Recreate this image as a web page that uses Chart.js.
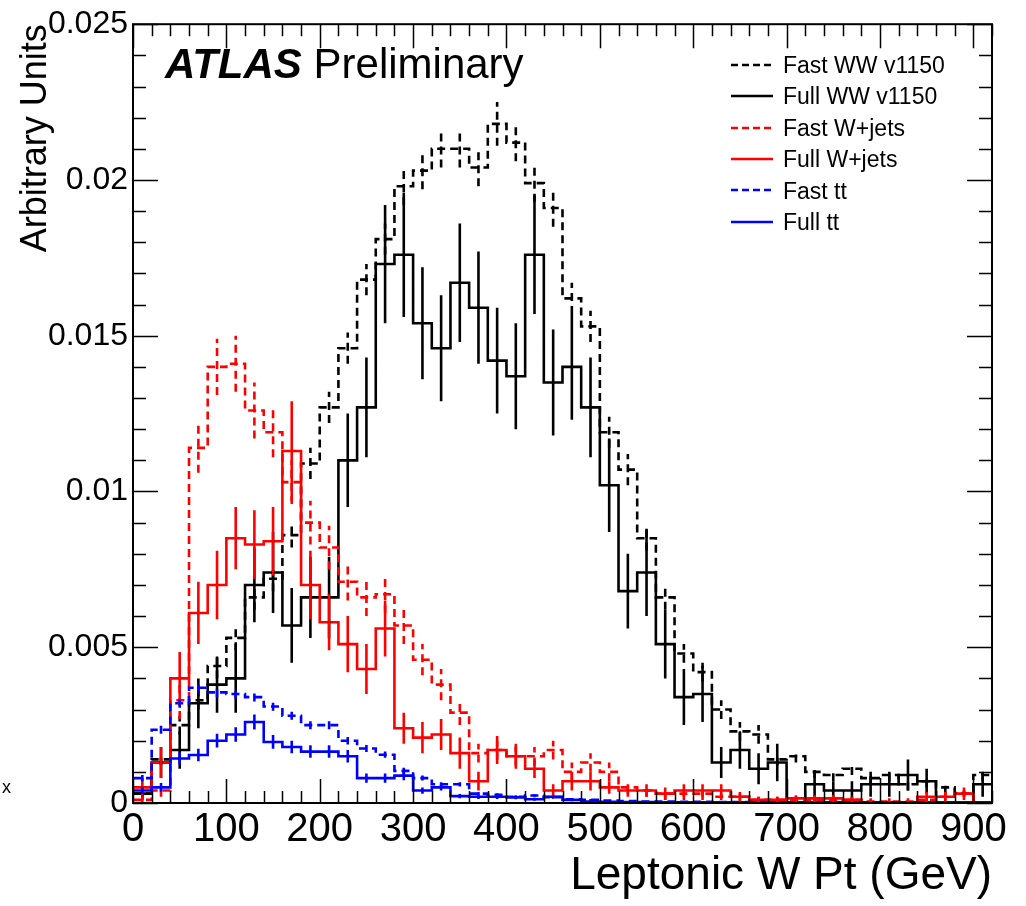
<!DOCTYPE html>
<html>
<head>
<meta charset="utf-8">
<title>Leptonic W Pt</title>
<script src="https://cdn.jsdelivr.net/npm/chart.js@4.4.1/dist/chart.umd.min.js"></script>
<style>
    body { margin: 0; background: #fff; font-family: 'Liberation Sans', Arial, sans-serif; }
    #wrap { position: relative; width: 1026px; height: 906px; }
    #atlas { position: absolute; left: 165px; top: 43px; font-size: 42px; line-height: 42px; color: #000; white-space: nowrap; }
    #atlas b { font-style: italic; }
    #legend { position: absolute; left: 731px; top: 50px; font-size: 23px; color: #000; }
    #legend .row { height: 31.4px; line-height: 31.4px; white-space: nowrap; }
    #legend svg { vertical-align: middle; margin-right: 10px; position: relative; top: -2px; }
    #corner { position: absolute; left: 2px; top: 777px; font-size: 18px; color: #000; }
</style>
</head>
<body>
<div id="wrap">
    <canvas id="chart"></canvas>
    <div id="atlas"><b>ATLAS</b> Preliminary</div>
    <div id="legend"></div>
    <div id="corner">x</div>
</div>
<script>
// 46 bins of 20 GeV, 0 - 920 GeV
const BIN_WIDTH = 20;
const X_MAX = 920;

const xTickValues = [0, 100, 200, 300, 400, 500, 600, 700, 800, 900];
const yTickValues = [0, 0.005, 0.01, 0.015, 0.02, 0.025];
const yTickLabels = ['0', '0.005', '0.01', '0.015', '0.02', '0.025'];

const seriesNames = ['Fast WW v1150', 'Full WW v1150', 'Fast W+jets', 'Full W+jets', 'Fast tt', 'Full tt'];

const fastWW = [0.0003, 0.0014, 0.0025, 0.0033, 0.0044, 0.0053, 0.0066, 0.0072, 0.0086, 0.0109,
    0.0127, 0.0146, 0.0168, 0.0181, 0.0198, 0.0203, 0.0210, 0.0210, 0.0204, 0.0218,
    0.0212, 0.0199, 0.0191, 0.0162, 0.0153, 0.0119, 0.0107, 0.0085, 0.0066, 0.0048,
    0.0042, 0.0030, 0.0023, 0.0022, 0.0014, 0.0015, 0.0010, 0.0009, 0.0011, 0.0008,
    0.0009, 0.0006, 0.0007, 0.0005, 0.0003, 0.0009];
const fastWWErr = [0.0001, 0.0002, 0.0003, 0.0003, 0.0004, 0.0004, 0.0004, 0.0004, 0.0004, 0.0005,
    0.0005, 0.0005, 0.0005, 0.0005, 0.0006, 0.0006, 0.0006, 0.0006, 0.0006, 0.0007,
    0.0006, 0.0006, 0.0006, 0.0005, 0.0005, 0.0005, 0.0005, 0.0004, 0.0004, 0.0003,
    0.0003, 0.0003, 0.0003, 0.0003, 0.0002, 0.0002, 0.0002, 0.0002, 0.0002, 0.0002,
    0.0002, 0.0002, 0.0002, 0.0002, 0.0001, 0.0002];

const fullWW = [0.0003, 0.0013, 0.0017, 0.0032, 0.0038, 0.0040, 0.0070, 0.0074, 0.0057, 0.0066,
    0.0066, 0.0110, 0.0127, 0.0173, 0.0176, 0.0154, 0.0146, 0.0167, 0.0159, 0.0142,
    0.0137, 0.0176, 0.0135, 0.0140, 0.0127, 0.0102, 0.0068, 0.0074, 0.0051, 0.0034,
    0.0035, 0.0013, 0.0017, 0.0011, 0.0013, 0.0000, 0.0006, 0.0004, 0.0004, 0.0006,
    0.0006, 0.0009, 0.0007, 0.0000, 0.0000, 0.0006];
const fullWWErr = [0.0002, 0.0005, 0.0006, 0.0008, 0.0009, 0.0011, 0.0012, 0.0013, 0.0012, 0.0013,
    0.0013, 0.0015, 0.0016, 0.0019, 0.0020, 0.0018, 0.0017, 0.0019, 0.0018, 0.0017,
    0.0017, 0.0019, 0.0017, 0.0017, 0.0016, 0.0015, 0.0012, 0.0014, 0.0011, 0.0009,
    0.0009, 0.0005, 0.0006, 0.0005, 0.0006, 0.0000, 0.0004, 0.0003, 0.0003, 0.0004,
    0.0004, 0.0005, 0.0004, 0.0000, 0.0000, 0.0004];

const fastWjets = [0.0001, 0.0004, 0.0033, 0.0114, 0.0140, 0.0141, 0.0126, 0.0119, 0.0103, 0.0090,
    0.0082, 0.0071, 0.0066, 0.0067, 0.0057, 0.0046, 0.0038, 0.0029, 0.0016, 0.0017,
    0.0015, 0.0015, 0.0017, 0.0010, 0.0013, 0.0010, 0.0005, 0.0004, 0.0003, 0.0003,
    0.0003, 0.0002, 0.0002, 0.0001, 0.0001, 0.0001, 0.0001, 0.0001, 0.0001, 0.00005,
    0.00005, 0.00005, 0.0001, 0.0002, 0.0003, 0.0000];
const fastWjetsErr = [0.0001, 0.0002, 0.0006, 0.0008, 0.0009, 0.0009, 0.0009, 0.0008, 0.0007, 0.0007,
    0.0007, 0.0006, 0.0006, 0.0006, 0.0006, 0.0005, 0.0005, 0.0004, 0.0003, 0.0003,
    0.0003, 0.0003, 0.0003, 0.0003, 0.0003, 0.0003, 0.0002, 0.0002, 0.0002, 0.0002,
    0.0002, 0.0001, 0.0001, 0.0001, 0.0001, 0.0001, 0.0001, 0.0001, 0.0001, 0.0001,
    0.0001, 0.0001, 0.0001, 0.0001, 0.0001, 0.0000];

const fullWjets = [0.0005, 0.0013, 0.0040, 0.0061, 0.0070, 0.0085, 0.0083, 0.0084, 0.0113, 0.0070,
    0.0058, 0.0051, 0.0043, 0.0056, 0.0024, 0.0021, 0.0022, 0.0016, 0.0007, 0.0017,
    0.0015, 0.0011, 0.0004, 0.0007, 0.0007, 0.0005, 0.0004, 0.0004, 0.0003, 0.0004,
    0.0004, 0.0004, 0.0002, 0.0001, 0.0001, 0.00015, 0.00015, 0.00015, 0.0001, 0.0000,
    0.0000, 0.0000, 0.0002, 0.0002, 0.0003, 0.0000];
const fullWjetsErr = [0.0003, 0.0005, 0.00085, 0.0010, 0.0011, 0.0010, 0.0011, 0.0011, 0.0016, 0.0011,
    0.0009, 0.0009, 0.0008, 0.0009, 0.0005, 0.0005, 0.0005, 0.0005, 0.0003, 0.00045,
    0.0004, 0.0003, 0.0002, 0.0003, 0.0003, 0.0002, 0.0002, 0.0002, 0.0002, 0.0002,
    0.0002, 0.0002, 0.00015, 0.0001, 0.0001, 0.0001, 0.0001, 0.0001, 0.0001, 0.0000,
    0.0000, 0.0000, 0.00015, 0.00015, 0.0002, 0.0000];

const fastTT = [0.0008, 0.00235, 0.0032, 0.0037, 0.00355, 0.0035, 0.0034, 0.0031, 0.0028, 0.0025,
    0.0025, 0.0020, 0.00175, 0.00155, 0.00103, 0.0008, 0.0006, 0.0006, 0.0003, 0.00026,
    0.0002, 0.00024, 0.00019, 0.00012, 0.0001, 0.00008, 0.00006, 0.00005, 0.00005, 0.00004,
    0.00004, 0.00003, 0.00003, 0.00003, 0.00002, 0.00002, 0.00002, 0.00002, 0.00002, 0.00002,
    0.00002, 0.00002, 0.00002, 0.00002, 0.00002, 0.00002];
const fastTTErr = [0.0001, 0.00013, 0.00014, 0.00015, 0.00015, 0.00015, 0.00014, 0.00014, 0.00013, 0.00013,
    0.00013, 0.00012, 0.00011, 0.0001, 0.0001, 0.00008, 0.00007, 0.00007, 0.00005, 0.00005,
    0.00004, 0.00004, 0.00004, 0.00003, 0.00003, 0, 0, 0, 0, 0,
    0, 0, 0, 0, 0, 0, 0, 0, 0, 0,
    0, 0, 0, 0, 0, 0];

const fullTT = [0.0004, 0.0005, 0.00143, 0.00154, 0.0020, 0.0022, 0.0026, 0.00196, 0.0018, 0.00165,
    0.00165, 0.0015, 0.0008, 0.0008, 0.00088, 0.0004, 0.0005, 0.00022, 0.0002, 0.0002,
    0.00018, 0.00012, 0.0002, 0.0001, 0.00005, 0.00004, 0.00003, 0.00003, 0.00002, 0.00002,
    0.00002, 0.00002, 0.00002, 0.00002, 0.00002, 0.00002, 0.00002, 0.00002, 0.00002, 0.00002,
    0.00002, 0.00002, 0.00002, 0.00002, 0.00002, 0.00002];
const fullTTErr = [0.00012, 0.00014, 0.0002, 0.0002, 0.00022, 0.00023, 0.00024, 0.00022, 0.0002, 0.0002,
    0.0002, 0.0002, 0.00015, 0.00015, 0.00015, 0.0001, 0.0001, 0.00007, 0.00007, 0.00007,
    0.00006, 0.00005, 0.00006, 0.00004, 0.00003, 0, 0, 0, 0, 0,
    0, 0, 0, 0, 0, 0, 0, 0, 0, 0,
    0, 0, 0, 0, 0, 0];

const FONT = "'Liberation Sans', Arial, Helvetica, sans-serif";
const DASH = [8, 5];

/**
 * Turns per-bin values into step points on the bin edges
 * @param {Array} values - content of each bin
 */
function histPoints(values) {
    const pts = values.map((v, i) => ({ x: i * BIN_WIDTH, y: v }));
    pts.push({ x: values.length * BIN_WIDTH, y: values[values.length - 1] });
    return pts;
}

function histDataset(label, values, errors, color, dashed, order) {
    return {
        label: label,
        data: histPoints(values),
        values: values,
        errors: errors,
        borderColor: color,
        borderWidth: 2.6,
        borderDash: dashed ? DASH : [],
        stepped: true,
        pointRadius: 0,
        fill: false,
        order: order
    };
}

// vertical error bars at bin centres, drawn in the style of their histogram
const errorBars = {
    id: 'errorBars',
    afterDatasetsDraw(chart) {
        const { ctx, chartArea: a, scales: { x, y } } = chart;
        ctx.save();
        ctx.beginPath();
        ctx.rect(a.left, a.top, a.right - a.left, a.bottom - a.top);
        ctx.clip();
        // same layering as the lines: higher order first
        const sets = chart.data.datasets.map((ds, i) => ({ ds, i })).sort((p, q) => q.ds.order - p.ds.order);
        sets.forEach(({ ds, i }) => {
            if (!chart.isDatasetVisible(i)) return;
            ctx.strokeStyle = ds.borderColor;
            ctx.lineWidth = ds.borderWidth;
            ctx.setLineDash(ds.borderDash);
            ds.values.forEach((v, b) => {
                const e = ds.errors[b];
                if (!v || !e) return;
                const px = x.getPixelForValue((b + 0.5) * BIN_WIDTH);
                ctx.beginPath();
                ctx.moveTo(px, y.getPixelForValue(Math.max(v - e, 0)));
                ctx.lineTo(px, y.getPixelForValue(v + e));
                ctx.stroke();
            });
        });
        ctx.restore();
    }
};

// ROOT style frame with inward ticks on all four sides
const rootFrame = {
    id: 'rootFrame',
    afterDraw(chart) {
        const { ctx, chartArea: a, scales: { x, y } } = chart;
        ctx.save();
        ctx.strokeStyle = '#000';
        ctx.lineWidth = 1.5;
        ctx.beginPath();
        for (let v = 0; v <= X_MAX; v += BIN_WIDTH) {
            const px = Math.round(x.getPixelForValue(v)) + 0.5;
            const len = v % 100 === 0 ? 24 : 12;
            ctx.moveTo(px, a.bottom); ctx.lineTo(px, a.bottom - len);
            ctx.moveTo(px, a.top); ctx.lineTo(px, a.top + len);
        }
        for (let k = 0; k <= 25; k++) {
            const py = Math.round(y.getPixelForValue(k * 0.001)) + 0.5;
            const len = k % 5 === 0 ? 25 : 13;
            ctx.moveTo(a.left, py); ctx.lineTo(a.left + len, py);
            ctx.moveTo(a.right, py); ctx.lineTo(a.right - len, py);
        }
        ctx.stroke();
        ctx.lineWidth = 2;
        ctx.strokeRect(a.left, a.top, a.right - a.left, a.bottom - a.top);
        ctx.restore();
    }
};

const datasets = [
    histDataset(seriesNames[0], fastWW, fastWWErr, '#000000', true, 6),
    histDataset(seriesNames[1], fullWW, fullWWErr, '#000000', false, 5),
    histDataset(seriesNames[2], fastWjets, fastWjetsErr, '#ff0000', true, 4),
    histDataset(seriesNames[3], fullWjets, fullWjetsErr, '#ff0000', false, 3),
    histDataset(seriesNames[4], fastTT, fastTTErr, '#0000ff', true, 2),
    histDataset(seriesNames[5], fullTT, fullTTErr, '#0000ff', false, 1)
];

Chart.defaults.font.family = FONT;
Chart.defaults.color = '#000';

const canvas = document.getElementById('chart');
canvas.width = 1026;
canvas.height = 906;

new Chart(canvas.getContext('2d'), {
    type: 'line',
    data: { datasets: datasets },
    plugins: [errorBars, rootFrame],
    options: {
        responsive: false,
        animation: false,
        layout: { padding: { left: 0, top: 21, right: 34, bottom: 0 } },
        plugins: {
            legend: { display: false },
            tooltip: { enabled: false }
        },
        scales: {
            x: {
                type: 'linear',
                min: 0,
                max: X_MAX,
                afterBuildTicks: scale => { scale.ticks = xTickValues.map(v => ({ value: v })); },
                afterFit: scale => { scale.height = 103; },
                grid: { display: false, drawTicks: false },
                border: { display: false },
                ticks: {
                    font: { size: 40 },
                    padding: 3,
                    maxRotation: 0,
                    autoSkip: false,
                    callback: v => String(v)
                },
                title: {
                    display: true,
                    text: 'Leptonic W Pt (GeV)',
                    align: 'end',
                    font: { size: 46 },
                    padding: { top: 0, bottom: 2 }
                }
            },
            y: {
                type: 'linear',
                min: 0,
                max: 0.025,
                afterBuildTicks: scale => { scale.ticks = yTickValues.map(v => ({ value: v })); },
                afterFit: scale => { scale.width = 133; },
                grid: { display: false, drawTicks: false },
                border: { display: false },
                ticks: {
                    font: { size: 32 },
                    padding: 5,
                    autoSkip: false,
                    callback: (v, i) => yTickLabels[i]
                },
                title: {
                    display: true,
                    text: 'Arbitrary Units',
                    align: 'end',
                    font: { size: 36 },
                    padding: { top: 14, bottom: 0 }
                }
            }
        }
    }
});

// legend, built from the same datasets
const legend = document.getElementById('legend');
datasets.forEach(ds => {
    const row = document.createElement('div');
    row.className = 'row';
    const dash = ds.borderDash.length ? ' stroke-dasharray="7 4"' : '';
    row.innerHTML = '<svg width="42" height="6"><line x1="0" y1="3" x2="42" y2="3" stroke="' + ds.borderColor +
        '" stroke-width="2.5"' + dash + '/></svg>';
    row.appendChild(document.createTextNode(ds.label));
    legend.appendChild(row);
});
</script>
</body>
</html>
